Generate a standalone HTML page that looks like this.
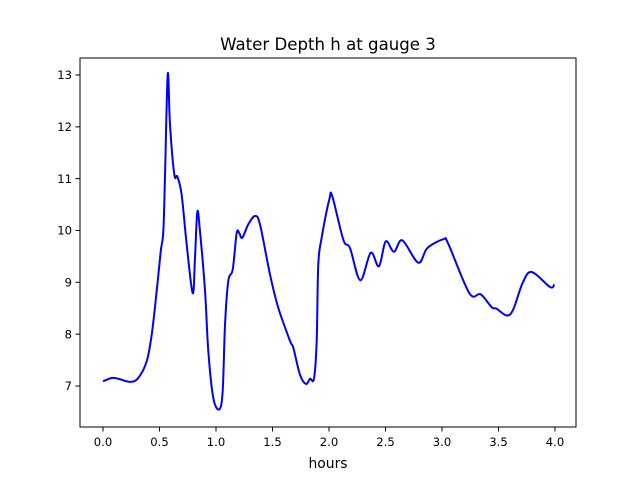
<!DOCTYPE html>
<html><head><meta charset="utf-8"><style>
body{margin:0;background:#fff}
svg{font-family:"DejaVu Sans","Liberation Sans",sans-serif}
</style></head><body>
<svg width="640" height="480" xmlns="http://www.w3.org/2000/svg">
<rect width="640" height="480" fill="#fff"/>
<text x="328" y="50" text-anchor="middle" font-size="16.6">Water Depth h at gauge 3</text>
<g id="plot"></g>
<rect x="80" y="58" width="496" height="369" fill="none" stroke="#000" stroke-width="1"/>
<g id="xt"></g>
<g id="yt"></g>
<text x="328" y="468" text-anchor="middle" font-size="13.9">hours</text>
</svg>
<script>
const hours=[0.0,0.077,0.135,0.239,0.312,0.387,0.431,0.475,0.511,0.534,0.549,0.573,0.593,0.631,0.658,0.696,0.741,0.794,0.814,0.835,0.858,0.903,0.932,0.976,1.029,1.059,1.080,1.109,1.148,1.183,1.206,1.233,1.286,1.345,1.389,1.478,1.551,1.655,1.684,1.743,1.796,1.832,1.867,1.891,1.905,1.935,2.003,2.029,2.127,2.186,2.277,2.369,2.442,2.502,2.575,2.649,2.790,2.870,3.012,3.056,3.242,3.342,3.440,3.484,3.573,3.631,3.714,3.794,3.956,3.994];
const depth=[7.09,7.155,7.14,7.08,7.155,7.48,7.99,8.83,9.60,9.99,11.08,13.02,12.04,11.08,11.04,10.69,9.72,8.79,9.47,10.36,9.99,8.83,7.67,6.77,6.55,6.90,8.19,9.03,9.25,9.95,9.95,9.86,10.12,10.28,10.12,9.15,8.51,7.87,7.74,7.22,7.04,7.14,7.14,7.87,9.34,9.86,10.6,10.66,9.82,9.66,9.04,9.57,9.31,9.79,9.59,9.81,9.38,9.66,9.83,9.74,8.79,8.77,8.52,8.49,8.36,8.48,8.99,9.20,8.91,8.96];
const xTicks=[0.0,0.5,1.0,1.5,2.0,2.5,3.0,3.5,4.0];
const xTickLabels=["0.0","0.5","1.0","1.5","2.0","2.5","3.0","3.5","4.0"];
const yTicks=[7,8,9,10,11,12,13];
const yTickLabels=["7","8","9","10","11","12","13"];
const NS="http://www.w3.org/2000/svg";
const X=v=>103+v*113, Y=v=>386-(v-7)*51.83;
const plot=document.getElementById('plot');
const pts=hours.map((h,i)=>[X(h),Y(depth[i])]);
let d="M"+pts[0][0]+","+pts[0][1];
for(let i=0;i<pts.length-1;i++){
 const p0=pts[Math.max(0,i-1)],p1=pts[i],p2=pts[i+1],p3=pts[Math.min(pts.length-1,i+2)];
 const c1=[p1[0]+(p2[0]-p0[0])/6,p1[1]+(p2[1]-p0[1])/6];
 const c2=[p2[0]-(p3[0]-p1[0])/6,p2[1]-(p3[1]-p1[1])/6];
 d+=` C${c1[0]},${c1[1]} ${c2[0]},${c2[1]} ${p2[0]},${p2[1]}`;
}
const path=document.createElementNS(NS,'path');
path.setAttribute('d',d);path.setAttribute('fill','none');path.setAttribute('stroke','#0000ff');path.setAttribute('stroke-width','2');


plot.appendChild(path);
const xt=document.getElementById('xt');
xTicks.forEach((v,i)=>{
 const l=document.createElementNS(NS,'line');
 l.setAttribute('x1',X(v));l.setAttribute('x2',X(v));l.setAttribute('y1',427);l.setAttribute('y2',431.5);l.setAttribute('stroke','#000');
 
 
 xt.appendChild(l);
 const t=document.createElementNS(NS,'text');
 t.setAttribute('x',X(v));t.setAttribute('y',446);t.setAttribute('text-anchor','middle');t.setAttribute('font-size','11.6');
 t.textContent=xTickLabels[i];
 
 
 xt.appendChild(t);
});
const yt=document.getElementById('yt');
yTicks.forEach((v,i)=>{
 const l=document.createElementNS(NS,'line');
 l.setAttribute('x1',75.5);l.setAttribute('x2',80);l.setAttribute('y1',Y(v));l.setAttribute('y2',Y(v));l.setAttribute('stroke','#000');
 
 
 yt.appendChild(l);
 const t=document.createElementNS(NS,'text');
 t.setAttribute('x',72);t.setAttribute('y',Y(v)+4.2);t.setAttribute('text-anchor','end');t.setAttribute('font-size','11.6');
 t.textContent=yTickLabels[i];
 
 
 yt.appendChild(t);
});
</script>
</body></html>
